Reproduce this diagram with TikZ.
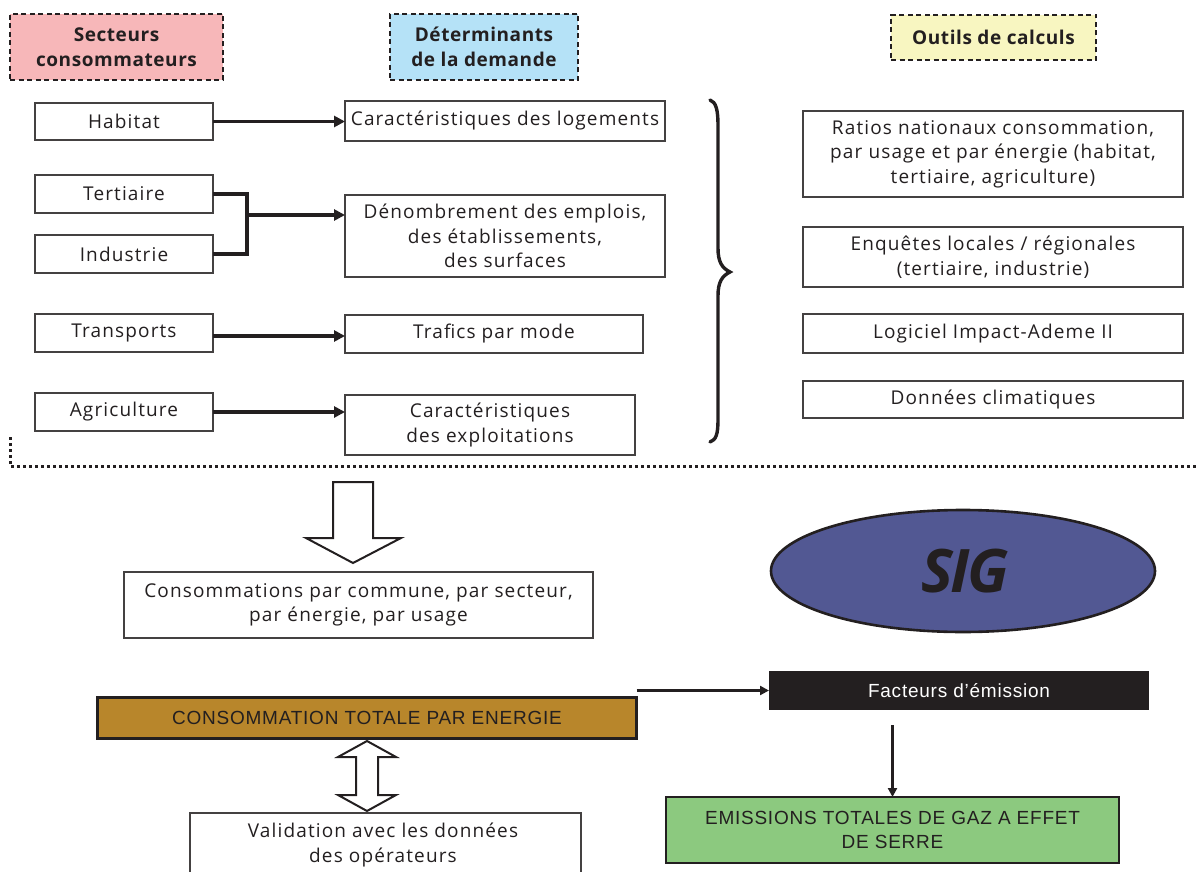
\documentclass[tikz,border=0pt]{standalone}
\usepackage{fontspec}
\setmainfont{Open Sans}[LetterSpace=6]
\newfontfamily\headfont{Open Sans}[LetterSpace=3]
\newfontfamily\sigfont{Open Sans}[LetterSpace=-4]
\newfontfamily\capsfont{Liberation Sans}[LetterSpace=4]
\usetikzlibrary{arrows.meta,calc,shapes.geometric}
\definecolor{ink}{HTML}{231F20}
\definecolor{pinkbg}{HTML}{F7B7B9}
\definecolor{bluebg}{HTML}{B5E2F7}
\definecolor{yellowbg}{HTML}{F8F6C1}
\definecolor{goldbg}{HTML}{B8862B}
\definecolor{slatebg}{HTML}{525893}
\definecolor{greenbg}{HTML}{8CC97F}
\tikzset{
  x=1pt, y=-1pt,
  every node/.style={inner sep=0pt, outer sep=0pt, text=ink},
  bodytext/.style={font=\fontsize{19}{24.5}\selectfont, align=center},
  headbox/.style={draw=ink, line width=2.8pt, dash pattern=on 5pt off 3.5pt, align=center,
     font=\headfont\fontsize{19}{25}\selectfont\bfseries},
  plainbox/.style={draw=ink!85, line width=1.4pt, fill=white, bodytext},
  link/.style={draw=ink, line width=3.2pt, -{Triangle[length=11pt,width=11pt]}},
  thinlink/.style={draw=ink, line width=2.5pt, -{Triangle[length=9pt,width=9pt]}},
  capsbox/.style={draw=ink, line width=2pt, font=\capsfont\fontsize{19}{24}\selectfont, align=center},
}
\begin{document}
\begin{tikzpicture}
\useasboundingbox (0,0) rectangle (1197,872);
\clip (0,0) rectangle (1197,872);

% headers
\node[headbox, fill=pinkbg, minimum width=213pt, minimum height=66pt] (sect) at (116.5,47) {Secteurs\\consommateurs};
\node[headbox, fill=bluebg, minimum width=188pt, minimum height=66pt] (det) at (484,47) {Déterminants\\de la demande};
\node[headbox, fill=yellowbg, minimum width=205pt, minimum height=45pt] (out) at (993.5,37.5) {Outils de calculs};

% sectors
\node[plainbox, minimum width=178pt, minimum height=37pt] (hab) at (124,121.5) {Habitat};
\node[plainbox, minimum width=178pt, minimum height=38pt] (ter) at (124,194) {Tertiaire};
\node[plainbox, minimum width=178pt, minimum height=38pt] (ind) at (124,254) {Industrie};
\node[plainbox, minimum width=178pt, minimum height=38pt] (tra) at (124,333) {Transports};
\node[plainbox, minimum width=178pt, minimum height=38pt] (agr) at (124,412) {Agriculture};

% determinants
\node[plainbox, minimum width=320pt, minimum height=40pt] (clog) at (505,121) {Caractéristiques des logements};
\node[plainbox, minimum width=320pt, minimum height=82pt] (den) at (505,236) {Dénombrement des emplois,\\des établissements,\\des surfaces};
\node[plainbox, minimum width=298pt, minimum height=38pt] (traf) at (494,334) {Trafics par mode};
\node[plainbox, minimum width=290pt, minimum height=60pt] (cexp) at (490,425) {Caractéristiques\\des exploitations};

% tools
\node[plainbox, minimum width=380pt, minimum height=86pt] (rat) at (993,154) {Ratios nationaux consommation,\\par usage et par énergie (habitat,\\tertiaire, agriculture)};
\node[plainbox, minimum width=380pt, minimum height=60pt] (enq) at (993,257) {Enquêtes locales / régionales\\(tertiaire, industrie)};
\node[plainbox, minimum width=380pt, minimum height=39pt] (logi) at (993,333.5) {Logiciel Impact-Ademe II};
\node[plainbox, minimum width=380pt, minimum height=37pt] (don) at (993,399.5) {Données climatiques};

% connectors top
\draw[link] (hab.east) -- (hab.east -| clog.west);
\coordinate (j) at (247,215);
\draw[draw=ink, line width=3.2pt] (ter.east) -| (j |- ind.east) -- (ind.east);
\draw[link] (j) -- (j -| den.west);
\coordinate (tj) at ($(tra.east)+(0,3)$);
\draw[link] (tj) -- (tj -| traf.west);
\draw[link] (agr.east) -- (agr.east -| cexp.west);

% brace
\draw[draw=ink, line width=3.4pt, line cap=round]
  (710,100) .. controls (716,102) and (718,110) .. (718,125) -- (718,248)
  .. controls (718,262) and (722,268) .. (730,272)
  .. controls (722,276) and (718,282) .. (718,296) -- (718,420)
  .. controls (718,434) and (716,440) .. (710,442);

% dotted separator
\draw[draw=ink, line width=3pt, dash pattern=on 3pt off 3pt] (10,437) -- (10,466) -- (1197,466);

% big down arrow
\draw[draw=ink, line width=2pt, fill=white, line join=miter]
  (333,482) -- (373,482) -- (373,538) -- (401,538) -- (353,563) -- (306,538) -- (333,538) -- cycle;

% bottom left
\node[plainbox, minimum width=469pt, minimum height=66pt] (cons) at (358.5,605) {Consommations par commune, par secteur,\\par énergie, par usage};
\node[capsbox, fill=goldbg, line width=2.8pt, minimum width=539pt, minimum height=41pt] (tot) at (367,718) {CONSOMMATION TOTALE PAR ENERGIE};
\draw[draw=ink, line width=2pt, fill=white, line join=miter]
  (367,741) -- (396,757) -- (378,757) -- (378,795) -- (396,795) -- (367,811) -- (338,795) -- (356,795) -- (356,757) -- (338,757) -- cycle;
\node[plainbox, minimum width=391pt, minimum height=80pt, anchor=north] (val) at (385.5,813) {};
\node[bodytext] (valtxt) at (383,845) {Validation avec les données\\des opérateurs};

% SIG
\node[ellipse, draw=ink, line width=2.6pt, fill=slatebg, minimum width=384pt, minimum height=122pt] (sig) at (963,571) {};
\node[font=\sigfont\fontsize{60}{62}\selectfont\bfseries\itshape, text=ink] (sigtxt) at (965,571) {SIG};

% emission factors
\node[fill=ink, minimum width=380pt, minimum height=39pt, font=\capsfont\fontsize{19}{24}\selectfont, text=white] (fact) at (959,690.5) {Facteurs d’émission};
\draw[thinlink] (tot.north east |- fact.west) -- (fact.west);

\node[capsbox, fill=greenbg, line width=1.8pt, minimum width=453pt, minimum height=66pt] (emis) at (892.5,830) {EMISSIONS TOTALES DE GAZ A EFFET\\DE SERRE};
\coordinate (fs) at ($(emis.north |- fact.south)+(0,15)$);
\draw[thinlink] (fs) -- (emis.north);
\end{tikzpicture}
\end{document}
